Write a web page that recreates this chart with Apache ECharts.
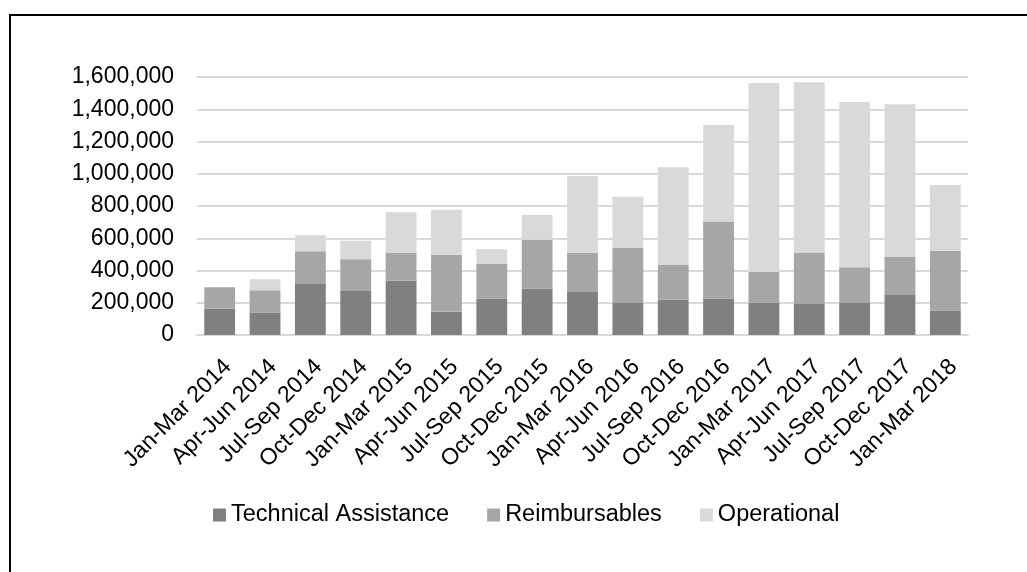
<!DOCTYPE html>
<html>
<head>
<meta charset="utf-8">
<script src="https://cdn.jsdelivr.net/npm/echarts@6/dist/echarts.min.js"></script>
<style>
  html, body { margin: 0; padding: 0; background: #ffffff; }
  #chart { width: 1027px; height: 572px; }
</style>
</head>
<body>
<div id="chart"></div>
<script>
// Quarterly spending by category
const quarters = [
  'Jan-Mar 2014', 'Apr-Jun 2014', 'Jul-Sep 2014', 'Oct-Dec 2014',
  'Jan-Mar 2015', 'Apr-Jun 2015', 'Jul-Sep 2015', 'Oct-Dec 2015',
  'Jan-Mar 2016', 'Apr-Jun 2016', 'Jul-Sep 2016', 'Oct-Dec 2016',
  'Jan-Mar 2017', 'Apr-Jun 2017', 'Jul-Sep 2017', 'Oct-Dec 2017',
  'Jan-Mar 2018'
];
const technicalAssistance = [
  164000, 137000, 317000, 273000, 337000, 145000, 226000, 288000,
  267000, 199000, 219000, 226000, 199000, 193000, 199000, 248000, 151000
];
const reimbursables = [
  132000, 140000, 203000, 197000, 172000, 352000, 215000, 302000,
  242000, 341000, 218000, 478000, 192000, 318000, 221000, 236000, 371000
];
const operational = [
  0, 69000, 99000, 114000, 253000, 279000, 91000, 155000,
  477000, 317000, 604000, 598000, 1172000, 1056000, 1025000, 947000, 408000
];
const yTicks = { min: 0, max: 1600000, step: 200000 };

const FONT = 'Liberation Sans, Arial, sans-serif';
const chart = echarts.init(document.getElementById('chart'), null, { renderer: 'canvas' });

const barSeries = (name, data, color) => ({
  name: name,
  type: 'bar',
  stack: 'total',
  data: data,
  barWidth: '68%',
  itemStyle: { color: color },
  emphasis: { disabled: true }
});

chart.setOption({
  animation: false,
  backgroundColor: '#ffffff',
  textStyle: { fontFamily: FONT },
  // chart frame (left and top edges)
  graphic: [{
    type: 'polyline',
    shape: { points: [[10, 572], [10, 15], [1027, 15]] },
    style: { stroke: '#000000', lineWidth: 2, fill: null },
    silent: true
  }],
  grid: { left: 197, right: 59, top: 77, bottom: 237, containLabel: false },
  legend: {
    left: 208,
    top: 498,
    itemWidth: 13,
    itemHeight: 13,
    itemGap: 38,
    icon: 'rect',
    textStyle: { fontFamily: FONT, fontSize: 23.5, color: '#000000' },
    data: ['Technical Assistance', 'Reimbursables', 'Operational']
  },
  xAxis: {
    type: 'category',
    data: quarters,
    axisTick: { show: false },
    axisLine: { lineStyle: { color: '#d9d9d9', width: 2 } },
    axisLabel: {
      interval: 0,
      rotate: 45,
      margin: 20,
      align: 'right',
      verticalAlign: 'top',
      fontFamily: FONT,
      fontSize: 23,
      color: '#000000'
    }
  },
  yAxis: {
    type: 'value',
    min: yTicks.min,
    max: yTicks.max,
    interval: yTicks.step,
    axisLine: { show: false },
    axisTick: { show: false },
    splitLine: { lineStyle: { color: '#d9d9d9', width: 2 } },
    axisLabel: {
      margin: 23,
      fontFamily: FONT,
      fontSize: 23,
      color: '#000000',
      formatter: v => v.toLocaleString('en-US')
    }
  },
  series: [
    barSeries('Technical Assistance', technicalAssistance, '#808080'),
    barSeries('Reimbursables', reimbursables, '#a6a6a6'),
    barSeries('Operational', operational, '#d9d9d9')
  ]
});
</script>
</body>
</html>
